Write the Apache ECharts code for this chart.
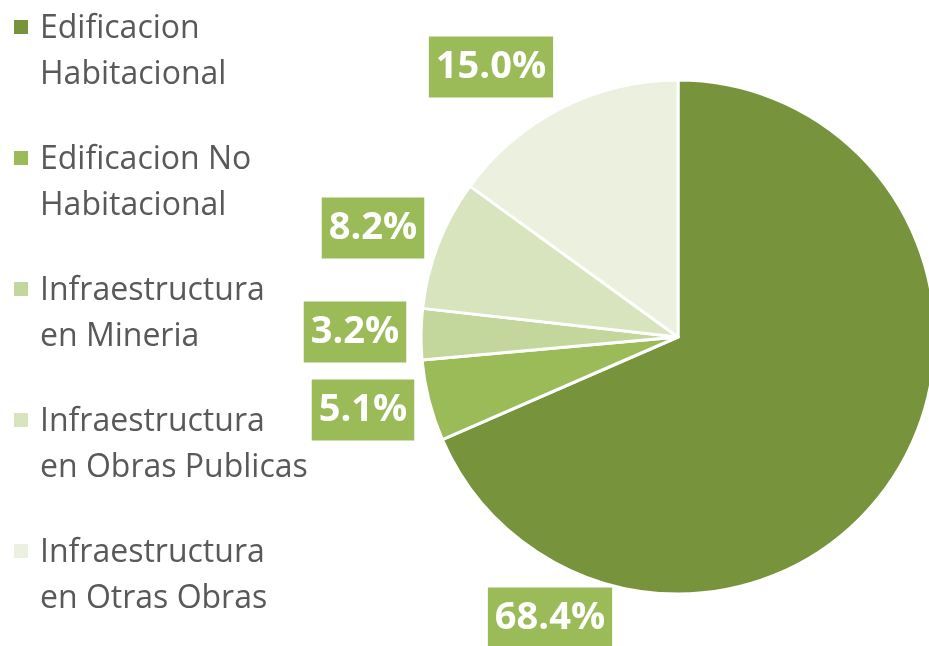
<!DOCTYPE html>
<html>
<head>
<meta charset="utf-8">
<script src="https://cdn.jsdelivr.net/npm/echarts@6/dist/echarts.min.js"></script>
<style>
  html, body { margin: 0; padding: 0; background: #ffffff; }
  #main-chart { width: 929px; height: 646px; }
</style>
</head>
<body>
<div id="main-chart"></div>
<script>
// categorias (el salto de linea es como aparece en la leyenda)
const categories = [
  'Edificacion\nHabitacional',
  'Edificacion No\nHabitacional',
  'Infraestructura\nen Mineria',
  'Infraestructura\nen Obras Publicas',
  'Infraestructura\nen Otras Obras'
]
// participacion en %
const shares = [68.4, 5.1, 3.2, 8.2, 15.0]
const colors = ['#77933c', '#9bbb59', '#c3d69b', '#d7e4bd', '#ebf1de']

// donde van las etiquetas (centro de cada caja), como en el original
const labelSpots = [[550, 618], [363, 410], [355, 332], [373, 228], [491, 67]]

// cuadrito arriba (alineado con la primera linea), caja invisible de 22x92
const legendIcon = 'path://M0,0L0,0M0,13.5L16,13.5L16,29.5L0,29.5ZM22,92L22,92'

const myChart = echarts.init(document.getElementById('main-chart'))

const option = {
  animation: false,
  color: colors,
  legend: {
    orient: 'vertical',
    left: 12,
    top: 4.5,
    padding: 0,
    itemWidth: 22,
    itemHeight: 92,
    itemGap: 37,
    icon: legendIcon,
    selectedMode: false,
    textStyle: {
      fontFamily: 'Open Sans',
      fontSize: 32,
      lineHeight: 46,
      color: '#595959'
    }
  },
  series: [
    {
      type: 'pie',
      center: [678, 337],
      radius: 257,
      startAngle: 90,
      clockwise: true,
      itemStyle: {
        borderColor: '#ffffff',
        borderWidth: 3
      },
      label: {
        show: true,
        position: 'inside',
        formatter: (p) => p.value.toFixed(1) + '%',
        fontFamily: 'Open Sans',
        fontWeight: 'bold',
        fontSize: 38,
        lineHeight: 41,
        color: '#ffffff',
        backgroundColor: '#9bbb59',
        padding: [10, 7, 10, 7]
      },
      labelLine: { show: false },
      labelLayout: (params) => {
        const spot = labelSpots[params.dataIndex]
        return { x: spot[0], y: spot[1], align: 'center', verticalAlign: 'middle' }
      },
      emphasis: { disabled: true },
      data: categories.map((name, i) => ({ name: name, value: shares[i] }))
    }
  ]
}

myChart.setOption(option)
</script>
</body>
</html>
